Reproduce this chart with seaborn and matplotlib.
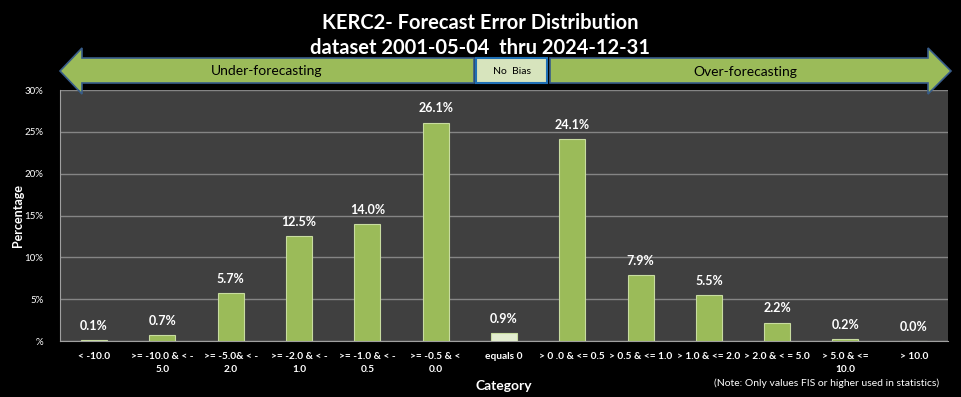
#coding:utf8

import numpy as np
import pandas as pd
import matplotlib
matplotlib.use("Agg")
import matplotlib.pyplot as plt
from matplotlib.patches import Polygon, Rectangle
import seaborn as sns

# donnees
categories = ["< -10.0", ">= -10.0 & < -\n5.0", ">= -5.0& < -\n2.0", ">= -2.0 & < -\n1.0",
              ">= -1.0 & < -\n0.5", ">= -0.5 & <\n0.0", "equals 0", "> 0 .0 & <= 0.5",
              "> 0.5 & <= 1.0", "> 1.0 & <= 2.0", "> 2.0 & < = 5.0", "> 5.0 & <=\n10.0", "> 10.0"]
pourcentages = [0.1, 0.7, 5.7, 12.5, 14.0, 26.1, 0.9, 24.1, 7.9, 5.5, 2.2, 0.2, 0.0]
yticks = [0, 5, 10, 15, 20, 25, 30]
ytick_labels = ["%", "5%", "10%", "15%", "20%", "25%", "30%"]

vert = "#9BBB59"
vert_pale = "#E3EDD0"
couleurs = [vert_pale if c == "equals 0" else vert for c in categories]

sns.set_style("dark")
plt.rcParams['font.family'] = ['Lato', 'DejaVu Sans']

df = pd.DataFrame({"Category": categories, "Percentage": pourcentages})

fig = plt.figure(figsize=(9.61, 3.97), dpi=100, facecolor="black")
ax = fig.add_axes([0.0624, 0.141, 0.924, 0.632])
ax.set_facecolor("#404040")

sns.barplot(data=df, x="Category", y="Percentage", hue="Category", palette=couleurs,
            saturation=1, legend=False, width=0.38, edgecolor="#C8DCA0", linewidth=0.8,
            ax=ax, zorder=3)

# etiquettes des barres
for i, v in enumerate(pourcentages):
    ax.annotate(f"{v:.1f}%", (i, v), xytext=(0, 6), textcoords="offset points",
                ha="center", va="bottom", color="white", fontsize=9, fontweight="bold")

ax.set_ylim(0, 30)
ax.set_xlim(-0.5, len(categories) - 0.5)
ax.set_yticks(yticks)
ax.set_yticklabels(ytick_labels, color="white", fontsize=7)
ax.grid(axis="y", color="#858585", linewidth=1, zorder=0)
ax.grid(axis="x", visible=False)

ax.set_xticks(range(len(categories)))
ax.set_xticklabels(categories, color="white", fontsize=7.3, fontweight="bold", linespacing=1.6)
ax.tick_params(axis="x", length=0, pad=8)
ax.set_xticks(np.arange(-0.5, len(categories)), minor=True)
ax.tick_params(axis="x", which="minor", length=4, color="#A0A0A0", direction="out")
ax.tick_params(axis="y", length=4, color="#A0A0A0", direction="out", pad=8)

for cote in ["top", "right"]:
    ax.spines[cote].set_visible(False)
ax.spines["left"].set_color("#A0A0A0")
ax.spines["bottom"].set_color("#A0A0A0")

ax.set_xlabel("Category", color="white", fontsize=10, fontweight="bold", labelpad=4)
ax.set_ylabel("Percentage", color="white", fontsize=9, fontweight="bold")
ax.yaxis.set_label_coords(-0.04, 0.5)

# titre
fig.text(0.5, 0.943, "KERC2- Forecast Error Distribution", ha="center", va="center",
         color="white", fontsize=14.5, fontweight="bold")
fig.text(0.5, 0.88, "dataset 2001-05-04  thru 2024-12-31", ha="center", va="center",
         color="white", fontsize=14.5, fontweight="bold")

# fleches
W, H = 961, 397
def px(x, y):
    return (x / W, 1 - y / H)

bord = "#385D8A"
gauche = [px(60, 71), px(82, 48), px(82, 58), px(474, 58), px(474, 83), px(82, 83), px(82, 94)]
droite = [px(550, 58), px(928, 58), px(928, 48), px(951, 71), px(928, 94), px(928, 83), px(550, 83)]
fig.patches.append(Polygon(gauche, closed=True, transform=fig.transFigure, facecolor=vert,
                           edgecolor=bord, linewidth=1.2))
fig.patches.append(Polygon(droite, closed=True, transform=fig.transFigure, facecolor=vert,
                           edgecolor=bord, linewidth=1.2))
x0, y0 = px(476, 83)
x1, y1 = px(547, 58)
fig.patches.append(Rectangle((x0, y0), x1 - x0, y1 - y0, transform=fig.transFigure,
                             facecolor="#D7E4BD", edgecolor="#1F6FB5", linewidth=1.5))

fig.text(*px(267, 71), "Under-forecasting", ha="center", va="center", color="black", fontsize=10)
fig.text(*px(512, 71), "No  Bias", ha="center", va="center", color="black", fontsize=7.5)
fig.text(*px(745, 72), "Over-forecasting", ha="center", va="center", color="black", fontsize=10)

fig.text(*px(827, 383), "(Note: Only values FIS or higher used in statistics)", ha="center",
         va="center", color="white", fontsize=7.5)

plt.savefig("out.png", dpi=100, facecolor="black")
